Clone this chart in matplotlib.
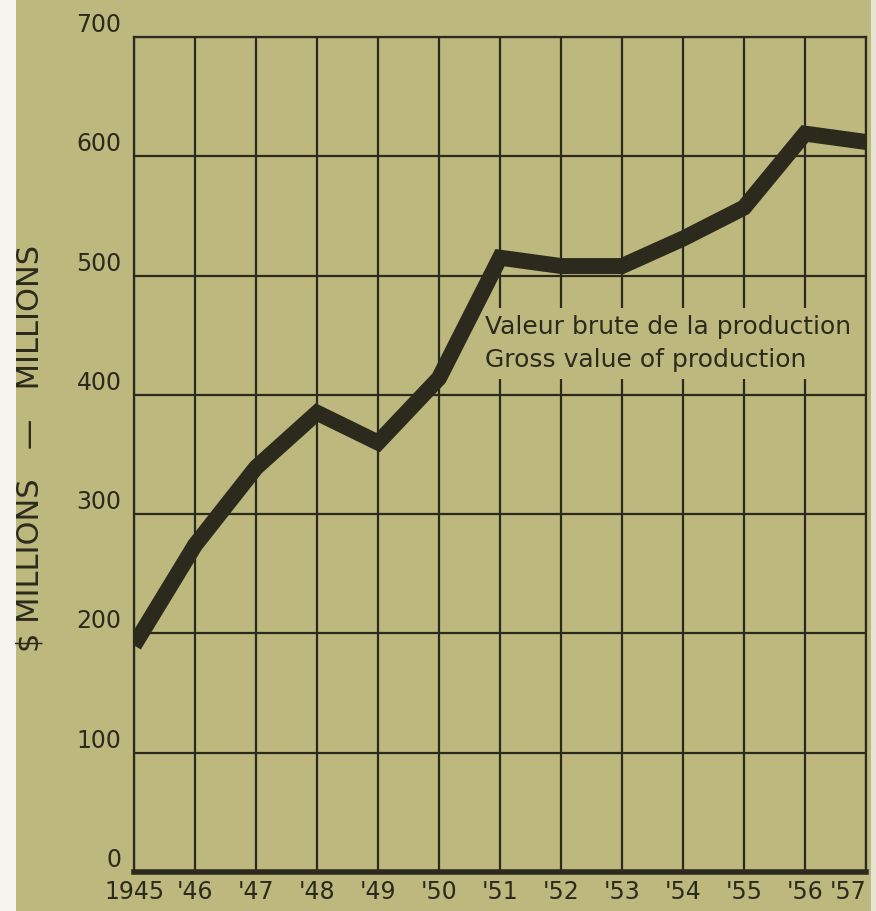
import numpy as np
import matplotlib
matplotlib.use('Agg')
import matplotlib.pyplot as plt
from matplotlib.patches import Rectangle
from matplotlib.transforms import ScaledTranslation

# Data
years = [1945, 1946, 1947, 1948, 1949, 1950, 1951, 1952, 1953, 1954, 1955, 1956, 1957]
year_labels = ['1945', "'46", "'47", "'48", "'49", "'50", "'51", "'52", "'53", "'54", "'55", "'56", "'57"]
gross_value = [190, 274, 339, 385, 360, 414, 515, 508, 508, 531, 557, 619, 612]
y_ticks = [0, 100, 200, 300, 400, 500, 600, 700]

bg = '#bcb87e'
ink = '#2c2a1c'

fig = plt.figure(figsize=(8.76, 9.11), dpi=100)
fig.patch.set_facecolor(bg)
# white paper edge on the left
fig.patches.append(Rectangle((0, 0), 16 / 876, 1, transform=fig.transFigure,
                             facecolor='#f4f3ee', edgecolor='none', zorder=0))
fig.patches.append(Rectangle((871 / 876, 0), 5 / 876, 1, transform=fig.transFigure,
                             facecolor='#e6e4d4', edgecolor='none', zorder=0))

ax = fig.add_axes([134 / 876, 39 / 911, 732 / 876, 835 / 911])
ax.set_facecolor(bg)
ax.set_xlim(1945, 1957)
ax.set_ylim(0, 700)

# grid
ax.set_xticks(years)
ax.set_yticks(y_ticks)
ax.grid(True, color=ink, linewidth=1.6)
ax.tick_params(length=0)
for side in ['left', 'right', 'top']:
    ax.spines[side].set_color(ink)
    ax.spines[side].set_linewidth(1.6)
ax.spines['bottom'].set_color(ink)
ax.spines['bottom'].set_linewidth(4)

ax.set_xticklabels(year_labels, fontsize=17, color=ink)
ax.set_yticklabels([str(v) for v in y_ticks], fontsize=17, color=ink)
for lab in ax.get_yticklabels():
    lab.set_va('bottom')
shift = ScaledTranslation(-5 / 100, 0, fig.dpi_scale_trans)
xlabs = ax.get_xticklabels()
for lab in xlabs[:-1]:
    lab.set_transform(lab.get_transform() + shift)
# last label squeezed against the right edge
xlabs[-1].set_ha('right')
xlabs[-1].set_transform(xlabs[-1].get_transform() + ScaledTranslation(9 / 100, 0, fig.dpi_scale_trans))
ax.tick_params(axis='y', pad=9)
ax.tick_params(axis='x', pad=6)

ax.plot(years, gross_value, color=ink, linewidth=11.5, solid_joinstyle='miter',
        solid_capstyle='butt', zorder=4)

ax.text(1950.76, 443, 'Valeur brute de la production\nGross value of production',
        fontsize=18, color=ink, family='DejaVu Sans', linespacing=1.45, va='center',
        ha='left', zorder=3,
        bbox=dict(facecolor=bg, edgecolor='none', pad=5))

fig.text(30 / 876, 1 - 448 / 911, '$ MILLIONS   —   MILLIONS', rotation=90,
         fontsize=22, color=ink, ha='center', va='center')

fig.savefig('out.png', dpi=100, facecolor=bg)
